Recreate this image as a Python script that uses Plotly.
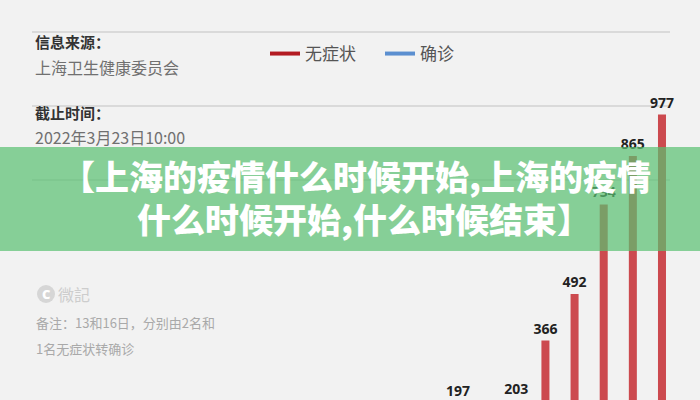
import plotly.graph_objects as go

# ---- data ----
dates = ["3/15", "3/16", "3/17", "3/18", "3/19", "3/20", "3/21", "3/22"]
asymptomatic = [197, 150, 203, 366, 492, 734, 865, 977]
confirmed = [5, 8, 57, 8, 17, 24, 31, 4]
series_names = ["无症状", "确诊"]
grid_values = [800, 1000, 1200]

source_label = "信息来源："
source_text = "上海卫生健康委员会"
time_label = "截止时间："
time_text = "2022年3月23日10:00"
note_lines = ["备注：13和16日，分别由2名和", "1名无症状转确诊"]
banner_lines = ["【上海的疫情什么时候开始,上海的疫情", "什么时候开始,什么时候结束】"]
brand = "微記"

# ---- layout: the original graphic is cropped at the bottom, so the figure
# is taller than the 400px view and the page shows only its top 400px ----
W, H_VIEW = 700, 400
H = 480
L, R, T, B = 32, 30, 0, 4
PLOT_H = H - T - B


def px_x(p):
    return (p - L) / (W - L - R)


def px_y(p):
    return 1 - (p - T) / PLOT_H


BG = "#f2f2f2"
RED = "#cc4a4f"
RED_LEG = "#b31b22"
BLUE = "#5b8fd0"
CJK = "Noto Sans CJK SC"

fig = go.Figure()
fig.add_bar(
    x=dates, y=asymptomatic, name=series_names[0], marker_color=RED,
    marker_line_width=0, width=0.275, offset=-0.1375, showlegend=False,
    hoverinfo="skip",
)
fig.add_bar(
    x=dates, y=confirmed, name=series_names[1], marker_color=BLUE,
    marker_line_width=0, width=0.275, offset=0.16, showlegend=False,
)
# value labels above the red bars
fig.add_scatter(
    x=dates, y=asymptomatic, mode="markers+text", text=asymptomatic,
    textposition="top center",
    marker=dict(size=4, color="rgba(0,0,0,0)"),
    textfont=dict(family="Open Sans", size=14, color="#222222", weight=700),
    cliponaxis=False, showlegend=False, hoverinfo="skip",
)
# legend entries (line symbols)
fig.add_scatter(x=[None], y=[None], mode="lines", name=series_names[0],
                line=dict(color=RED_LEG, width=4))
fig.add_scatter(x=[None], y=[None], mode="lines", name=series_names[1],
                line=dict(color=BLUE, width=4))

fig.update_layout(
    width=W, height=H,
    margin=dict(l=L, r=R, t=T, b=B, pad=0),
    paper_bgcolor=BG, plot_bgcolor=BG,
    barmode="overlay",
    xaxis=dict(type="category", range=[-14.62, 7.275], showticklabels=False,
               showgrid=False, zeroline=False, showline=False, ticks=""),
    yaxis=dict(range=[0, 1286.5], tickvals=grid_values, showticklabels=False,
               showgrid=True, gridcolor="#dadada", gridwidth=2,
               zeroline=False, showline=False, ticks=""),
    legend=dict(orientation="h", x=px_x(265), y=px_y(54), xanchor="left",
                yanchor="middle", font=dict(family=CJK, size=17, color="#555555"),
                bgcolor="rgba(0,0,0,0)", itemwidth=30, entrywidth=70,
                entrywidthmode="pixels"),
    showlegend=True,
)

shapes = [
    dict(type="rect", xref="paper", yref="paper", x0=px_x(0), x1=px_x(700),
         y0=px_y(251), y1=px_y(147), fillcolor="rgb(88,192,112)", opacity=0.7,
         line=dict(width=0), layer="above"),
    dict(type="circle", xref="paper", yref="paper", x0=px_x(37), x1=px_x(55),
         y0=px_y(303), y1=px_y(285), fillcolor="#d6d6d6", line=dict(width=0),
         layer="above"),
]
fig.update_layout(shapes=shapes)


def ann(text, x, y, size, color, weight=400, anchor="left", family=CJK):
    fig.add_annotation(text=text, xref="paper", yref="paper", x=px_x(x), y=px_y(y),
                       xanchor=anchor, yanchor="middle", showarrow=False,
                       font=dict(family=family, size=size, color=color, weight=weight),
                       borderpad=0)


ann(source_label, 34, 41, 15, "#333333", 700)
ann(source_text, 34, 67, 16, "#707070")
ann(time_label, 34, 112, 15, "#333333", 700)
ann(time_text, 34, 137, 16, "#707070")
ann("C", 46, 294, 13, "#ffffff", 900, anchor="center", family="Open Sans")
ann(brand, 57, 294, 16, "#cdcdcd")
ann(note_lines[0], 35, 322, 13, "#a9a9a9")
ann(note_lines[1], 35, 348, 13, "#a9a9a9")

ann(banner_lines[0], 356, 175, 34, "#ffffff", 900, anchor="center")
ann(banner_lines[1], 364, 219, 34, "#ffffff", 900, anchor="center")

crop_js = (
    "document.documentElement.style.overflow='hidden';"
    "document.body.style.margin='0';"
    "document.body.style.overflow='hidden';"
    "var gd=document.getElementById('{plot_id}');"
    "gd.parentElement.style.height='" + str(H_VIEW) + "px';"
    "gd.parentElement.style.overflow='hidden';"
)
fig.write_html("out.html", config={"displayModeBar": False}, post_script=crop_js)
